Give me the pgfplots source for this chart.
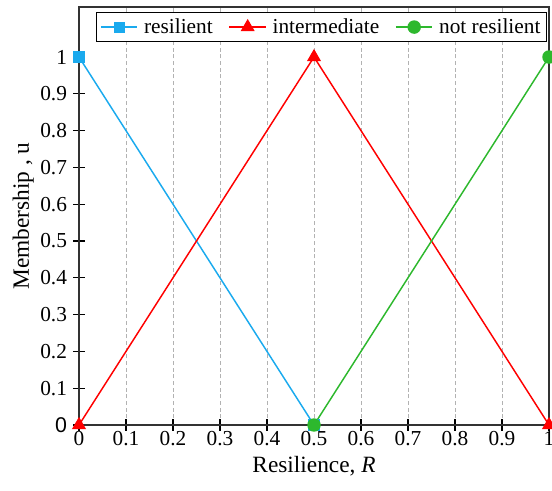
\documentclass[border=0pt]{standalone}
\usepackage{fontspec}
\setmainfont{Liberation Serif}
\newfontfamily\arial{Liberation Sans}
\usepackage{pgfplots}
\pgfplotsset{compat=1.18}
\definecolor{cblue}{HTML}{1AAAEE}
\definecolor{cred}{HTML}{FF0000}
\definecolor{cgreen}{HTML}{2DB82D}
\begin{document}
\begin{tikzpicture}
    \begin{axis}[
            scale only axis,
            width=352.5pt,
            height=313.5pt,
            xmin=0, xmax=1,
            ymin=0, ymax=1.136,
            xtick={0,0.1,...,1},
            ytick={0,0.1,...,1},
            xticklabels={0,0.1,0.2,0.3,0.4,0.5,0.6,0.7,0.8,0.9,1},
            yticklabels={{\arial 0},0.1,0.2,0.3,0.4,0.5,0.6,0.7,0.8,0.9,1},
            /pgf/number format/assume math mode=true,
            tick pos=left,
            tick align=center,
            major tick length=9pt,
            tick style={black, thick},
            axis line style={black!80, line width=1.3pt},
            xmajorgrids=true,
            grid style={gray!60, densely dashed, thin},
            ticklabel style={font=\fontsize{16}{18}\selectfont},
            xticklabel style={yshift=3pt},
            yticklabel style={xshift=-1pt},
            xlabel={Resilience, \textit{R}},
            ylabel={Membership , u},
            label style={font=\fontsize{17.5}{20}\selectfont},
            xlabel style={yshift=-1pt},
            ylabel style={yshift=-2pt},
            legend columns=3,
            legend style={
                    font=\fontsize{16}{18}\selectfont,
                    at={(0.996,0.988)},
                    anchor=north east,
                    draw=black, line width=1pt,
                    inner sep=2.5pt,
                    /tikz/column sep=2.5pt,
                    /tikz/every even column/.append style={column sep=10pt},
                },
            legend image code/.code={
                    \draw[mark repeat=2, mark phase=2, #1]
                    plot coordinates {(0cm,0cm) (0.48cm,0cm) (0.96cm,0cm)};
                },
            clip=false,
        ]

        \addplot[cblue, line width=1.1pt, mark=square*, mark size=3.6pt,
            mark options={fill=cblue, solid}] coordinates {
                (0, 1)
                (0.5, 0)
            };
        \addlegendentry{resilient}

        \addplot[cred, line width=1.1pt, mark=triangle*, mark size=5pt,
            mark options={fill=cred, solid}] coordinates {
                (0, 0)
                (0.5, 1)
                (1, 0)
            };
        \addlegendentry{intermediate}

        \addplot[cgreen, line width=1.1pt, mark=*, mark size=4.5pt,
            mark options={fill=cgreen, solid}] coordinates {
                (0.5, 0)
                (1, 1)
            };
        \addlegendentry{not resilient}
    \end{axis}
    \pgfresetboundingbox
    \path (-59.25pt,-49.5pt) rectangle (354.75pt,318.75pt);
\end{tikzpicture}
\end{document}
